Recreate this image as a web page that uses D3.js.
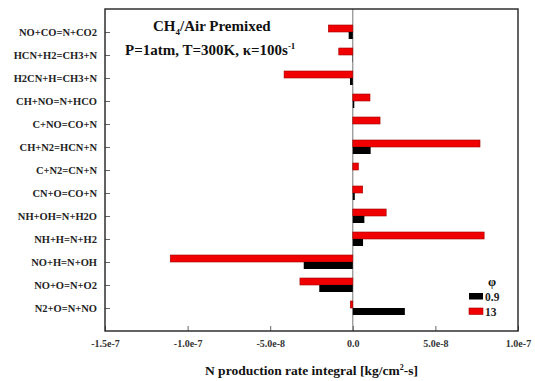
<!DOCTYPE html>
<html>
<head>
<meta charset="utf-8">
<script src="https://cdn.jsdelivr.net/npm/d3@7"></script>
<style>
  body { margin: 0; background: #fff; }
</style>
</head>
<body>
<div id="chart"></div>
<script>
// reactions, top to bottom
var reactions = [
  "NO+CO=N+CO2", "HCN+H2=CH3+N", "H2CN+H=CH3+N", "CH+NO=N+HCO", "C+NO=CO+N",
  "CH+N2=HCN+N", "C+N2=CN+N", "CN+O=CO+N", "NH+OH=N+H2O", "NH+H=N+H2",
  "NO+H=N+OH", "NO+O=N+O2", "N2+O=N+NO"
];
// N production rate integral, phi = 0.9 (black) and phi = 1.3 (red)
var phi09 = [-2.5e-9, -2e-10, -1.7e-9, 9e-10, 0, 1.08e-8, 0, 1.2e-9, 7e-9, 6.2e-9, -2.97e-8, -2.03e-8, 3.15e-8];
var phi13 = [-1.48e-8, -8.5e-9, -4.16e-8, 1.04e-8, 1.65e-8, 7.7e-8, 3.4e-9, 6e-9, 2.02e-8, 7.95e-8, -1.105e-7, -3.2e-8, -1.5e-9];
var xTicks = [-1.5e-7, -1e-7, -5e-8, 0, 5e-8, 1e-7];
var xTickLabels = ["-1.5e-7", "-1.0e-7", "-5.0e-8", "0.0", "5.0e-8", "1.0e-7"];
var legendLabels = ["0.9", "13"];

var serif = "'Liberation Serif', 'DejaVu Serif', serif";
var width = 535, height = 381;
var margin = { top: 9, right: 17, bottom: 50, left: 105 };
var innerW = width - margin.left - margin.right;
var innerH = height - margin.top - margin.bottom;
var barH = 7;

var svg = d3.select("#chart").append("svg")
  .attr("width", width)
  .attr("height", height)
  .attr("font-family", serif)
  .attr("font-weight", "bold");

var g = svg.append("g")
  .attr("transform", "translate(" + margin.left + "," + margin.top + ")");

var x = d3.scaleLinear().domain([-1.5e-7, 1e-7]).range([0, innerW]);
var y = d3.scalePoint().domain(reactions).range([0, innerH]).padding(1);

// zero line
g.append("line")
  .attr("x1", x(0)).attr("x2", x(0))
  .attr("y1", 0).attr("y2", innerH)
  .attr("stroke", "#777").attr("stroke-width", 1);

// bars: red above, black below row line
g.selectAll(".r13").data(reactions).enter().append("rect")
  .attr("class", "r13")
  .attr("x", function (d, i) { return x(Math.min(0, phi13[i])); })
  .attr("y", function (d) { return y(d) - barH; })
  .attr("width", function (d, i) { return Math.abs(x(phi13[i]) - x(0)); })
  .attr("height", barH)
  .attr("fill", "#f00000")
  .attr("stroke", "#a00000")
  .attr("stroke-width", 0.6);

g.selectAll(".r09").data(reactions).enter().append("rect")
  .attr("class", "r09")
  .attr("x", function (d, i) { return x(Math.min(0, phi09[i])); })
  .attr("y", function (d) { return y(d); })
  .attr("width", function (d, i) { return Math.abs(x(phi09[i]) - x(0)); })
  .attr("height", barH)
  .attr("fill", "#000");

// axes
var yAxis = g.append("g")
  .call(d3.axisLeft(y).tickSizeInner(-5).tickSizeOuter(0).tickPadding(8))
  .attr("font-family", serif).attr("font-weight", "bold");
yAxis.select(".domain").remove();
yAxis.selectAll("line").attr("stroke", "#666");
yAxis.selectAll("text").attr("font-size", "10.5px").attr("fill", "#222");

var xAxis = g.append("g")
  .attr("transform", "translate(0," + innerH + ")")
  .call(d3.axisBottom(x).tickValues(xTicks)
    .tickFormat(function (d, i) { return xTickLabels[i]; })
    .tickSizeInner(-5).tickSizeOuter(0).tickPadding(9))
  .attr("font-family", serif).attr("font-weight", "bold");
xAxis.select(".domain").remove();
xAxis.selectAll("line").attr("stroke", "#666");
xAxis.selectAll("text").attr("font-size", "10px").attr("fill", "#333");

// frame
g.append("rect")
  .attr("width", innerW).attr("height", innerH)
  .attr("fill", "none").attr("stroke", "#222").attr("stroke-width", 1.4);

// titles
var t1 = g.append("text").attr("x", 48).attr("y", 22).attr("font-size", "15px").attr("fill", "#111");
t1.append("tspan").text("CH");
t1.append("tspan").attr("font-size", "9px").attr("dy", 4).text("4");
t1.append("tspan").attr("dy", -4).text("/Air Premixed");

var t2 = g.append("text").attr("x", 20).attr("y", 46).attr("font-size", "15px").attr("fill", "#111");
t2.append("tspan").text("P=1atm, T=300K, \u03ba=100s");
t2.append("tspan").attr("font-size", "9px").attr("dy", -6).text("-1");

// x axis title
var xt = svg.append("text")
  .attr("x", margin.left + innerW / 2).attr("y", 375)
  .attr("text-anchor", "middle").attr("font-size", "13.5px").attr("fill", "#111");
xt.append("tspan").text("N production rate integral [kg/cm");
xt.append("tspan").attr("font-size", "8px").attr("dy", -5).text("2");
xt.append("tspan").attr("dy", 5).text("-s]");

// legend
var lg = svg.append("g");
lg.append("text").attr("x", 492).attr("y", 286).attr("text-anchor", "middle")
  .attr("font-size", "13px").attr("fill", "#111").text("\u03c6");
var legColors = ["#000", "#f00000"];
legendLabels.forEach(function (lab, i) {
  lg.append("rect")
    .attr("x", 469).attr("y", 293 + i * 15)
    .attr("width", 14).attr("height", 6.5)
    .attr("fill", legColors[i])
    .attr("stroke", i ? "#a00000" : "none").attr("stroke-width", 0.6);
  lg.append("text")
    .attr("x", 485).attr("y", 300.5 + i * 15)
    .attr("font-size", "11.5px").attr("fill", "#222").text(lab);
});
</script>
</body>
</html>
